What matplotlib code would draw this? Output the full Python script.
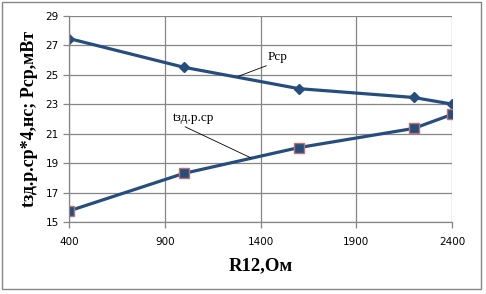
import matplotlib.pyplot as plt
from matplotlib.patches import Rectangle

r12 = [400, 1000, 1600, 2200, 2400]
p_cp = [27.45, 25.5, 24.05, 23.45, 23.0]
t_zd = [15.75, 18.3, 20.05, 21.35, 22.3]
x_ticks = [400, 900, 1400, 1900, 2400]
y_ticks = [15, 17, 19, 21, 23, 25, 27, 29]

line_col = "#254E7E"
grid_col = "#868686"

fig = plt.figure(figsize=(4.86, 2.94), dpi=100)
W, H = 486, 294
ax = fig.add_axes([69 / W, 1 - 222 / H, (452 - 69) / W, (222 - 15.7) / H])

ax.plot(r12, p_cp, color=line_col, lw=2.3, marker="D", ms=5, mfc=line_col, mec=line_col)
ax.plot(r12, t_zd, color=line_col, lw=2.3, marker="s", ms=7, mfc=line_col, mec="#C07070", mew=1)

ax.set_xlim(400, 2400)
ax.set_ylim(15, 29)
ax.set_xticks(x_ticks)
ax.set_yticks(y_ticks)
ax.grid(True, color=grid_col, lw=0.9)
ax.set_axisbelow(True)
for s in ["top", "right"]:
    ax.spines[s].set_visible(False)
for s in ["left", "bottom"]:
    ax.spines[s].set_color(grid_col)
    ax.spines[s].set_linewidth(0.9)
ax.tick_params(colors=grid_col, length=4, width=0.9, labelsize=7.5, labelcolor="black")
ax.tick_params(axis="x", pad=7)

ax.set_xlabel("R12,Ом", family="Liberation Serif", fontweight="bold", fontsize=13.5, labelpad=7)
ax.set_ylabel("tзд.р.ср*4,нс; Pср,мВт", family="Liberation Serif", fontweight="bold", fontsize=13, labelpad=5)

ax.annotate("Pср", xy=(1287, 24.9), xytext=(1438, 26.2), family="Liberation Serif", fontsize=9.5,
            va="center", ha="left",
            arrowprops=dict(arrowstyle="-", color="black", lw=0.6, relpos=(0.3, 0.0), shrinkA=0, shrinkB=0))
ax.annotate("tзд.р.ср", xy=(1350, 19.35), xytext=(943, 22.06), family="Liberation Serif", fontsize=9.5,
            va="center", ha="left",
            arrowprops=dict(arrowstyle="-", color="black", lw=0.6, relpos=(0.15, 0.0), shrinkA=0, shrinkB=0))

fig.patches.append(Rectangle((2 / W, 1 - 289 / H), 479 / W, 287 / H, transform=fig.transFigure,
                             fill=False, ec=grid_col, lw=1))

fig.savefig("out.png", dpi=100)
